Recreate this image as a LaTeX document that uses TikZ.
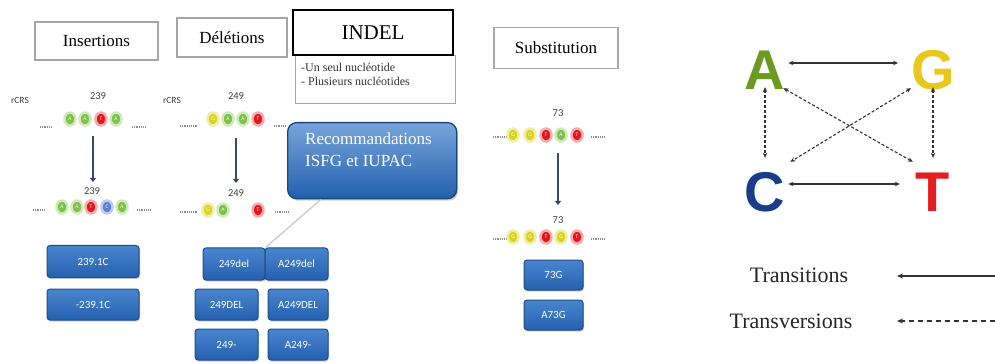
\documentclass[tikz,border=0pt]{standalone}
\usepackage{fontspec}
\setmainfont{Liberation Serif}
\newfontfamily\boxfont{Carlito}
\newfontfamily\bigfont{Liberation Sans}
\usetikzlibrary{arrows.meta,calc,shadows,shapes.geometric}

\definecolor{ngreen}{HTML}{7DC242}
\definecolor{nred}{HTML}{E4161B}
\definecolor{nyellow}{HTML}{D8D41E}
\definecolor{nblue}{HTML}{5C7FD6}
\definecolor{btop}{HTML}{4A86CF}
\definecolor{bbot}{HTML}{2460AE}
\definecolor{bedge}{HTML}{1E4C86}
\definecolor{arrowblue}{HTML}{34496B}
\definecolor{lA}{HTML}{6B9A1E}
\definecolor{lG}{HTML}{E8C81E}
\definecolor{lC}{HTML}{1A3C8C}
\definecolor{lT}{HTML}{E41E1E}

\tikzset{
  titlebox/.style={draw=gray!70, line width=1.2pt, inner sep=0pt, font=\fontsize{17}{19}\selectfont},
  nuc/.style={ellipse, minimum width=11pt, minimum height=13pt, inner sep=0pt, text=white,
              font=\boxfont\fontsize{5.5}{5.5}\selectfont, line width=2.5pt},
  nucg/.style={nuc, fill=ngreen, draw=ngreen!35},
  nucr/.style={nuc, fill=nred, draw=nred!35},
  nucy/.style={nuc, fill=nyellow, draw=nyellow!40},
  nucb/.style={nuc, fill=nblue, draw=nblue!40},
  poslabel/.style={font=\boxfont\fontsize{10.5}{10.5}\selectfont, text=black!75},
  refseq/.style={font=\boxfont\fontsize{9.5}{9.5}\selectfont, text=black!75},
  gapdots/.style={draw=black!45, line width=1.3pt, dash pattern=on 1.2pt off 1pt},
  downarrow/.style={draw=arrowblue, line width=2.4pt, -{Triangle[length=4pt,width=6pt]}},
  namebox/.style={rounded corners=3pt, draw=bedge, line width=1pt,
                  top color=btop, bottom color=bbot, text=white,
                  drop shadow={shadow xshift=1pt, shadow yshift=-1.5pt, opacity=.35},
                  font=\boxfont\fontsize{11}{11}\selectfont, inner sep=0pt},
  baseletter/.style={font=\bigfont\bfseries\fontsize{56}{56}\selectfont,
                 minimum width=40pt, minimum height=40pt, inner sep=0pt},
  transarrow/.style={draw=black!80, line width=1.4pt, {Stealth[length=5pt,width=4.5pt]}-{Stealth[length=5pt,width=4.5pt]}},
  transvarrow/.style={draw=black!80, line width=1.1pt, dash pattern=on 3pt off 2pt,
                 {Stealth[length=5pt,width=4.5pt]}-{Stealth[length=5pt,width=4.5pt]}},
  legendtext/.style={font=\fontsize{22}{24}\selectfont, text=black!85},
}

\begin{document}
\begin{tikzpicture}[x=1pt,y=-1pt]
\useasboundingbox[fill=white] (0,0) rectangle (995,363);

% ---- headings
\node[titlebox, minimum width=123pt, minimum height=38pt] (ins) at (96.5,41) {Insertions};
\node[titlebox, minimum width=110pt, minimum height=39pt] (del) at (232,37.5) {Délétions};
\node[draw=gray!70, line width=1.2pt, minimum width=160pt, minimum height=48pt,
      anchor=north west, inner sep=0pt] (indeltypes) at (295,55) {};
\node[anchor=west, align=left, inner sep=0pt, font=\fontsize{12}{14}\selectfont, text=black!80]
      (indeltext) at (301,74) {-Un seul nucléotide\\- Plusieurs nucléotides};
\node[draw=black, line width=1.3pt, fill=white, minimum width=160pt, minimum height=45pt,
      inner sep=0pt, font=\fontsize{21}{23}\selectfont] (indel) at (373,32.5) {INDEL};
\node[titlebox, minimum width=124pt, minimum height=41pt] (sub) at (556,48) {Substitution};

% ---- insertion example
\node[refseq] (rcrs1) at (20,100) {rCRS};
\node[poslabel] (p239a) at (98,96) {239};
\draw[gapdots] (40,127) -- (52,127);
\node[nucg] (i1) at (70,119) {A};
\node[nucg] (i2) at (85,119) {A};
\node[nucr] (i3) at (101,119) {T};
\node[nucg] (i4) at (116,119) {A};
\draw[gapdots] (132,127) -- (147,127);
\coordinate (ia) at (93,136);
\coordinate (ib) at (93,182);
\draw[downarrow] (ia) -- (ib);
\node[poslabel] (p239b) at (92,191) {239};
\draw[gapdots] (33,210) -- (46,210);
\node[nucg] (j1) at (62,207) {A};
\node[nucg] (j2) at (77,207) {A};
\node[nucr] (j3) at (91,207) {T};
\node[nucb] (j4) at (107,207) {C};
\node[nucg] (j5) at (122,207) {A};
\draw[gapdots] (137,210) -- (152,210);
\node[namebox, minimum width=92pt, minimum height=32pt] (ib1) at (93,261.5) {239.1C};
\node[namebox, minimum width=92pt, minimum height=31pt] (ib2) at (93,304.5) {-239.1C};

% ---- deletion example
\node[refseq] (rcrs2) at (172,100) {rCRS};
\node[poslabel] (p249a) at (236,96) {249};
\draw[gapdots] (180,126) -- (197,126);
\node[nucy] (d1) at (213,119) {G};
\node[nucg] (d2) at (228,119) {A};
\node[nucg] (d3) at (243,119) {A};
\node[nucr] (d4) at (258,119) {T};
\draw[gapdots] (274,126) -- (286,126);
\coordinate (da) at (236,138);
\coordinate (db) at (236,183);
\draw[downarrow] (da) -- (db);
\node[poslabel] (p249b) at (236,193) {249};
\draw[gapdots] (180,212) -- (197,212);
\node[nucy] (e1) at (208,210) {G};
\node[nucg] (e2) at (223,210) {A};
\node[nucr] (e4) at (258,210) {T};
\draw[gapdots] (275,212) -- (290,212);
\node[namebox, minimum width=62pt, minimum height=32pt] (db1) at (234,264) {249del};
\node[namebox, minimum width=63pt, minimum height=32pt] (db2) at (296.5,264) {A249del};
\node[namebox, minimum width=63pt, minimum height=31pt] (db3) at (226.5,304.5) {249DEL};
\node[namebox, minimum width=60pt, minimum height=31pt] (db4) at (298,304.5) {A249DEL};
\node[namebox, minimum width=63pt, minimum height=31pt] (db5) at (226.5,344.5) {249-};
\node[namebox, minimum width=60pt, minimum height=31pt] (db6) at (298,344.5) {A249-};

% ---- recommendations callout
\node[rounded corners=9pt, draw=bedge!90!black, line width=1.3pt,
      top color=btop!75!white, bottom color=bbot, minimum width=169pt, minimum height=76pt,
      drop shadow={shadow xshift=1.5pt, shadow yshift=-2pt, opacity=.35},
      anchor=north west, inner sep=0pt] (rec) at (287,122) {};
\node[anchor=north west, align=left, inner sep=0pt, text=white,
      font=\fontsize{17}{22}\selectfont] (rectext) at (305,133) {Recommandations\\ISFG et IUPAC};
\draw[draw=black!25, line width=1pt] ($(rec.south west)!0.2!(rec.south east)$) -- (db1.north east);

% ---- substitution example
\node[poslabel] (p73a) at (558,113) {73};
\draw[gapdots] (493,137) -- (507,137);
\node[nucy] (s1) at (513,135) {G};
\node[nucy] (s2) at (530,135) {G};
\node[nucr] (s3) at (546,135) {T};
\node[nucg] (s4) at (561,135) {A};
\node[nucr] (s5) at (577,135) {T};
\draw[gapdots] (591,137) -- (605,137);
\coordinate (sa) at (558,153);
\coordinate (sb) at (558,205);
\draw[downarrow] (sa) -- (sb);
\node[poslabel] (p73b) at (558,220) {73};
\draw[gapdots] (493,239) -- (507,239);
\node[nucy] (t1) at (513,237) {G};
\node[nucy] (t2) at (530,237) {G};
\node[nucr] (t3) at (546,237) {T};
\node[nucy] (t4) at (561,237) {G};
\node[nucr] (t5) at (577,237) {T};
\draw[gapdots] (591,239) -- (605,239);
\node[namebox, minimum width=59pt, minimum height=30pt] (sb1) at (553.5,275) {73G};
\node[namebox, minimum width=59pt, minimum height=30pt] (sb2) at (553.5,315) {A73G};

% ---- base exchange scheme
\node[baseletter, text=lA] (A) at (765,70) {A};
\node[baseletter, text=lG] (G) at (933,70) {G};
\node[baseletter, text=lC] (C) at (765,192) {C};
\node[baseletter, text=lT] (T) at (933,192) {T};
\draw[transarrow] ([xshift=3pt,yshift=7pt]A.east) -- ([xshift=-13pt,yshift=7pt]G.west);
\draw[transarrow] ([xshift=3pt,yshift=8pt]C.east) -- ([xshift=-13pt,yshift=8pt]T.west);
\draw[transvarrow] ([yshift=3pt]A.south) -- ([yshift=14pt]C.north);
\draw[transvarrow] ([yshift=3pt]G.south) -- ([yshift=14pt]T.north);
\draw[transvarrow] ([xshift=-2pt,yshift=2pt]A.south east) -- ([yshift=10pt]T.north west);
\draw[transvarrow] ([yshift=2pt]G.south west) -- ([xshift=5pt,yshift=10pt]C.north east);

% ---- legend
\node[legendtext] (ltr) at (799,275) {Transitions};
\node[legendtext] (ltv) at (791,321) {Transversions};
\coordinate (ltrend) at (995,276);
\coordinate (ltvend) at (995,321);
\draw[draw=black!80, line width=1.5pt, -{Stealth[length=6pt,width=5pt]}] (ltrend) -- ([xshift=-98pt]ltrend);
\draw[draw=black!80, line width=1.2pt, dash pattern=on 5pt off 4pt, -{Stealth[length=6pt,width=5pt]}] (ltvend) -- ([xshift=-98pt]ltvend);
\end{tikzpicture}
\end{document}
